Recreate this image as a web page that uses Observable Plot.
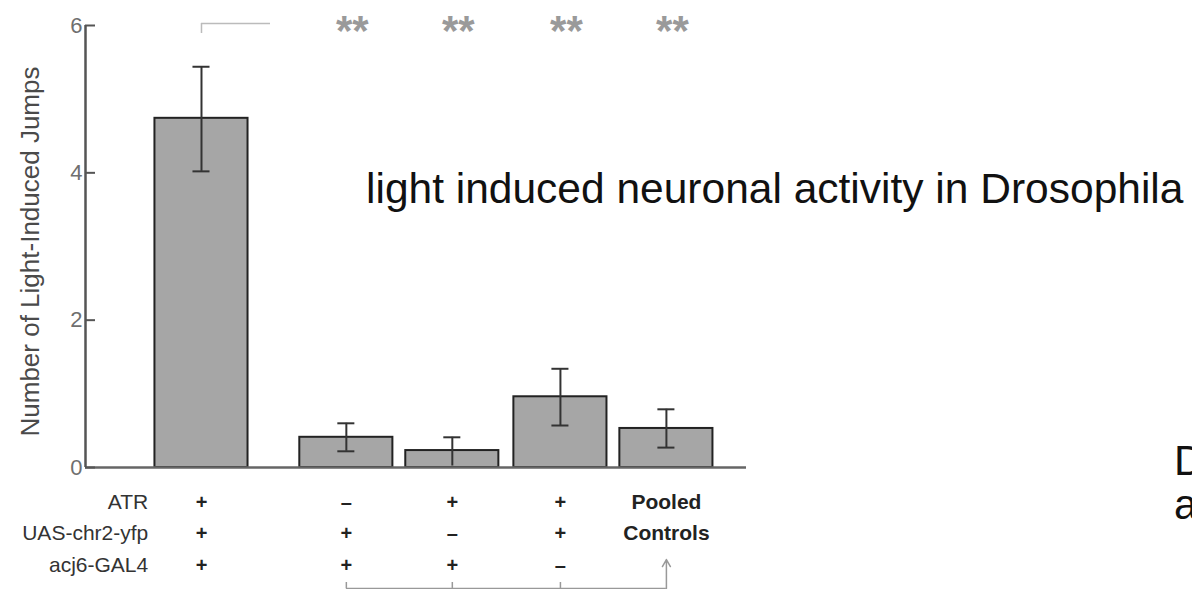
<!DOCTYPE html>
<html><head><meta charset="utf-8">
<script src="https://cdn.jsdelivr.net/npm/d3@7"></script>
<script src="https://cdn.jsdelivr.net/npm/@observablehq/plot@0.6"></script>
<style>
html,body{margin:0;padding:0;background:#fff;overflow:hidden;width:1192px;height:589px;}
#wrap{position:relative;width:1192px;height:589px;overflow:hidden;font-family:"Liberation Sans",Arial,sans-serif;}
#chart{position:absolute;left:0;top:0;}
.title{position:absolute;left:366px;top:168px;font-size:42.5px;line-height:42px;color:#111;white-space:nowrap;}
.edge{position:absolute;left:1174px;font-size:42px;line-height:42px;color:#111;white-space:nowrap;}
</style></head>
<body><div id="wrap"><div id="chart"></div>
<div class="title">light induced neuronal activity in Drosophila</div>
<div class="edge" style="top:440px">D</div>
<div class="edge" style="top:484px">a</div>
</div>
<script>
// ---- data ----
const groups = ["ATR+ UAS+ GAL4+", "ATR- UAS+ GAL4+", "ATR+ UAS- GAL4+", "ATR+ UAS+ GAL4-", "Pooled Controls"];
const groupPos = [0, 1.36, 2.355, 3.37, 4.365];
const means = [4.74, 0.41, 0.23, 0.96, 0.53];
const errLow = [4.02, 0.22, 0.02, 0.57, 0.27];
const errHigh = [5.44, 0.60, 0.41, 1.34, 0.79];
const yTicks = [0, 2, 4, 6];
const yLabel = "Number of Light-Induced Jumps";
const rowLabels = ["ATR", "UAS-chr2-yfp", "acj6-GAL4"];
const rowLevels = [-0.475, -0.896, -1.33];
const genotypeSigns = [
  ["+", "–", "+", "+"],
  ["+", "+", "–", "+"],
  ["+", "+", "+", "–"]
];
const pooledLabel = ["Pooled", "Controls"];
const sigGroups = [1, 2, 3, 4];
const sigText = "**";
const xDomain = [-1.089, 5.117];
const rowLabelX = -0.5;
const topBracket = {x2: 0.648, y: 6.027, drop: 5.891};
const bottomBracket = {y: -1.642, tick: -1.561, arrowTop: -1.25};
const barHalf = 0.437, capHalf = 0.08;

const data = groups.map((g, i) => ({g, pos: groupPos[i], mean: means[i], lo: errLow[i], hi: errHigh[i]}));
const signs = [];
genotypeSigns.forEach((row, r) => row.forEach((s, c) => signs.push({s, pos: groupPos[c], y: rowLevels[r]})));
const pooled = pooledLabel.map((t, i) => ({t, pos: groupPos[4], y: rowLevels[i]}));

const font = "Liberation Sans, Arial, sans-serif";
const chart = Plot.plot({
  width: 1192, height: 589,
  marginLeft: 85, marginRight: 446, marginTop: 25, marginBottom: 122,
  style: {fontFamily: font, fontSize: "21px", background: "transparent", overflow: "visible"},
  x: {domain: xDomain, axis: null},
  y: {domain: [0, 6], axis: null},
  marks: [
    Plot.rectY(data, {x1: d => d.pos - barHalf, x2: d => d.pos + barHalf, y: "mean", fill: "#a6a6a6", stroke: "#222", strokeWidth: 2}),
    Plot.ruleY([0], {stroke: "#666", strokeWidth: 2.5}),
    Plot.ruleX([xDomain[0]], {y1: 0, y2: 6, stroke: "#555", strokeWidth: 2.5}),
    Plot.axisY(yTicks, {tickSize: 0, tickPadding: 3, tickFormat: d => String(d), fontSize: 22, color: "#6f6f6f", label: null}),
    Plot.axisY(yTicks, {tickSize: -10, tickFormat: () => "", stroke: "#555", strokeWidth: 2, label: null}),
    Plot.ruleX(data, {x: "pos", y1: "lo", y2: "hi", stroke: "#333", strokeWidth: 2}),
    Plot.ruleY(data, {y: "hi", x1: d => d.pos - capHalf, x2: d => d.pos + capHalf, stroke: "#333", strokeWidth: 2}),
    Plot.ruleY(data.filter(d => d.lo > 0.05), {y: "lo", x1: d => d.pos - capHalf, x2: d => d.pos + capHalf, stroke: "#333", strokeWidth: 2}),
    Plot.text(sigGroups, {x: i => groupPos[i], y: 6, text: () => sigText, dx: 6, dy: 6, fontSize: 42, fontWeight: "bold", fill: "#9a9a9a"}),
    Plot.ruleY([topBracket.y], {x1: groupPos[0], x2: topBracket.x2, stroke: "#bbb", strokeWidth: 1.5}),
    Plot.ruleX([groupPos[0]], {y1: topBracket.y, y2: topBracket.drop, stroke: "#bbb", strokeWidth: 1.5}),
    Plot.text([yLabel], {frameAnchor: "left", textAnchor: "middle", rotate: -90, dx: -55, dy: 5, fontSize: 26, fill: "#4a4a4a"}),
    Plot.text(rowLabels, {x: () => rowLabelX, y: (d, i) => rowLevels[i], textAnchor: "end", fontSize: 21, fill: "#333"}),
    Plot.text(signs, {x: "pos", y: "y", text: "s", fontSize: 20, fontWeight: "bold", fill: "#222"}),
    Plot.text(pooled, {x: "pos", y: "y", text: "t", fontSize: 21, fontWeight: "bold", fill: "#222"}),
    Plot.ruleY([bottomBracket.y], {x1: groupPos[1], x2: groupPos[4], stroke: "#999", strokeWidth: 1.5}),
    Plot.ruleX(groupPos.slice(1, 4), {y1: bottomBracket.y, y2: bottomBracket.tick, stroke: "#999", strokeWidth: 1.5}),
    Plot.arrow([groupPos[4]], {x1: d => d, x2: d => d, y1: bottomBracket.y, y2: bottomBracket.arrowTop, stroke: "#999", strokeWidth: 1.5, headLength: 8})
  ]
});
document.getElementById("chart").appendChild(chart);
</script>
</body></html>
